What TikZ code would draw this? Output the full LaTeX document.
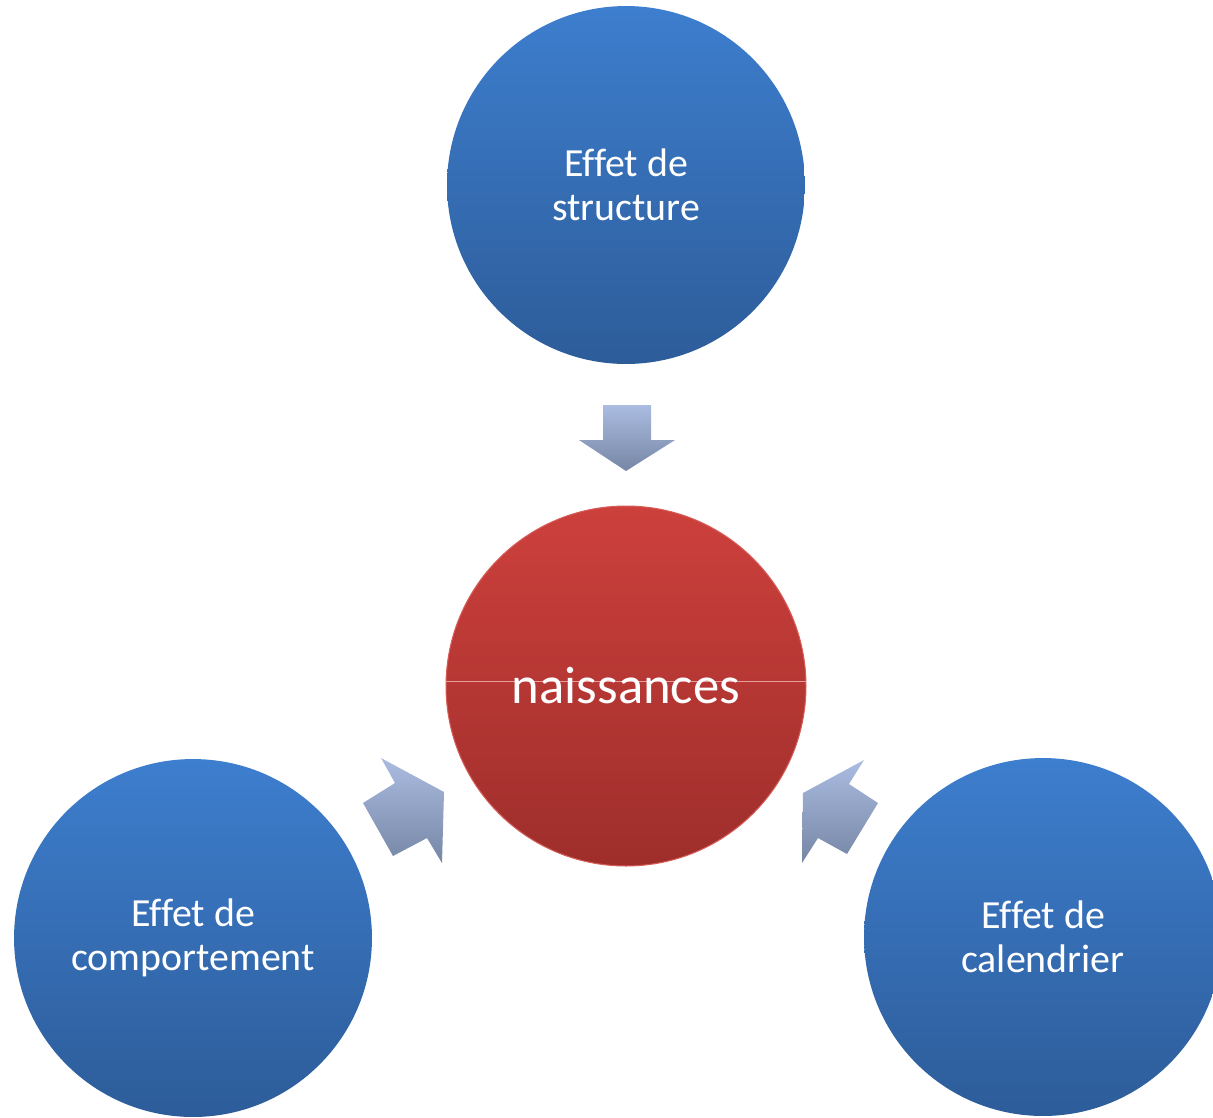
\documentclass[tikz,border=0pt]{standalone}
\usepackage{fontspec}
\setmainfont[Ligatures=CommonOff]{Carlito}
\definecolor{bluetop}{RGB}{61,126,206}
\definecolor{bluebot}{RGB}{45,92,153}
\definecolor{redtop}{RGB}{205,64,60}
\definecolor{redbot}{RGB}{158,46,43}
\definecolor{redrim}{RGB}{214,92,88}
\definecolor{arrtop}{RGB}{170,188,224}
\definecolor{arrbot}{RGB}{118,134,166}
\tikzset{
    effet/.style={circle, minimum size=7.16cm, inner sep=0pt, outer sep=0pt,
        top color=bluetop, bottom color=bluebot, text=white, align=center,
        font=\fontsize{22.7}{25}\selectfont},
    centre/.style={circle, minimum size=7.2cm, inner sep=0pt, outer sep=0pt,
        top color=redtop, bottom color=redbot, draw=redrim, line width=0.6pt,
        text=white, font=\fontsize{30}{34}\selectfont},
    fleche/.style={top color=arrtop, bottom color=arrbot, draw=none},
}
\begin{document}
\begin{tikzpicture}[x=0.02cm, y=-0.02cm]
    \useasboundingbox (0, 0) rectangle (1213, 1117);

    \node[effet]  (structure)     at (626, 185) {Effet de\\structure};
    \node[centre] (naissances)    at (626, 686) {};
    \node[effet]  (comportement)  at (193, 938) {Effet de\\comportement};
    \node[effet]  (calendrier)    at (1043, 937) {Effet de\\calendrier};

    % thin seam of the red disc
    \draw[redrim!60!white, line width=0.5pt] ([yshift=0.1cm]naissances.west) -- ([yshift=0.1cm]naissances.east);
    \node[text=white, font=\fontsize{30}{34}\selectfont] (titre) at (naissances.center) {naissances};

    % block arrows
    \shade[fleche] (603, 405) -- (651, 405) -- (651, 440) -- (675, 440) -- (626, 471) -- (579, 440) -- (603, 440) -- cycle;
    \shade[fleche] (381, 758) -- (395, 783) -- (363, 803) -- (393, 856) -- (427, 838) -- (442, 863) -- (444, 792) -- cycle;
    \shade[fleche] (864, 760) -- (849, 784) -- (878, 803) -- (847, 854) -- (818, 838) -- (802, 863) -- (803, 793) -- cycle;
\end{tikzpicture}
\end{document}
